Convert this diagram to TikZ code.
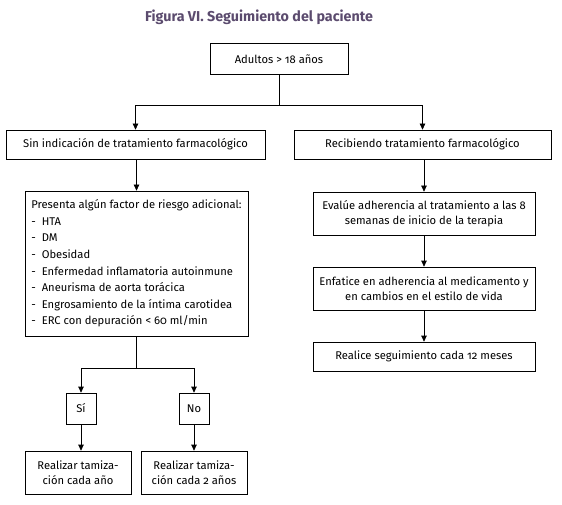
\documentclass[tikz,border=0pt]{standalone}
\usepackage{fontspec}
\setmainfont[Numbers=OldStyle]{Fira Sans}
\usetikzlibrary{arrows.meta}
\definecolor{titlecolor}{HTML}{5B4B6E}

\begin{document}
\begin{tikzpicture}[x=1pt,y=-1pt,font=\fontsize{11.2}{14.5}\selectfont,
  box/.style={draw,line width=0.7pt,inner sep=0pt,align=center},
  arr/.style={draw,line width=0.7pt,-{Triangle[length=6pt,width=5.5pt]}},
  line/.style={draw,line width=0.7pt}]
  \useasboundingbox (0,0) rectangle (562,505);
  %title
  \node[font=\bfseries\fontsize{14.3}{17}\selectfont,text=titlecolor] (title) at (259,17) {Figura VI. Seguimiento del paciente};
  %top
  \node[box,minimum width=138pt,minimum height=31pt] (adultos) at (279,59) {Adultos > 18 años};
  \node[box,minimum width=259pt,minimum height=29pt] (sin) at (135.5,144.5) {Sin indicación de tratamiento farmacológico};
  \node[box,minimum width=257pt,minimum height=29pt] (recib) at (422.5,144.5) {Recibiendo tratamiento farmacológico};
  \draw[line] (adultos.south) -- ++(0,31) coordinate (split1);
  \draw[arr] (split1) -| (sin.north);
  \draw[arr] (split1) -| (recib.north);
  %left
  \node[box,minimum width=223pt,minimum height=145pt,align=left,font=\fontsize{11.2}{16.6}\selectfont] (riesgo) at (136.5,263.5) {%
    Presenta algún factor de riesgo adicional:\\
    \makebox[10.5pt][l]{-}HTA\\
    \makebox[10.5pt][l]{-}DM\\
    \makebox[10.5pt][l]{-}Obesidad\\
    \makebox[10.5pt][l]{-}Enfermedad inflamatoria autoinmune\\
    \makebox[10.5pt][l]{-}Aneurisma de aorta torácica\\
    \makebox[10.5pt][l]{-}Engrosamiento de la íntima carotidea\\
    \makebox[10.5pt][l]{-}ERC con depuración < 60 ml/min};
  \draw[arr] (sin.south -| riesgo.north) -- (riesgo.north);
  \node[box,minimum width=30pt,minimum height=31pt] (si) at (81,408.5) {Sí};
  \node[box,minimum width=30pt,minimum height=31pt] (no) at (194,408.5) {No};
  \draw[line] (riesgo.south) -- ++(0,32) coordinate (split2);
  \draw[arr] (split2) -| (si.north);
  \draw[arr] (split2) -| (no.north);
  \node[box,minimum width=106pt,minimum height=43pt] (anual) at (78,472.5) {Realizar tamiza-\\ción cada año};
  \node[box,minimum width=106pt,minimum height=43pt] (bienal) at (194,472.5) {Realizar tamiza-\\ción cada 2 años};
  \draw[arr] (si.south) -- (si.south |- anual.north);
  \draw[arr] (no.south) -- (no.south |- bienal.north);
  %right
  \node[box,minimum width=222pt,minimum height=43pt] (evalue) at (424,213.5) {Evalúe adherencia al tratamiento a las 8\\semanas de inicio de la terapia};
  \node[box,minimum width=222pt,minimum height=43pt] (enfatice) at (424,288.5) {Enfatice en adherencia al medicamento y\\en cambios en el estilo de vida};
  \node[box,minimum width=222pt,minimum height=29pt] (realice) at (424,356.5) {Realice seguimiento cada 12 meses};
  \draw[arr] (recib.south -| evalue.north) -- (evalue.north);
  \draw[arr] (evalue.south) -- (enfatice.north);
  \draw[arr] (enfatice.south) -- (realice.north);
\end{tikzpicture}
\end{document}
